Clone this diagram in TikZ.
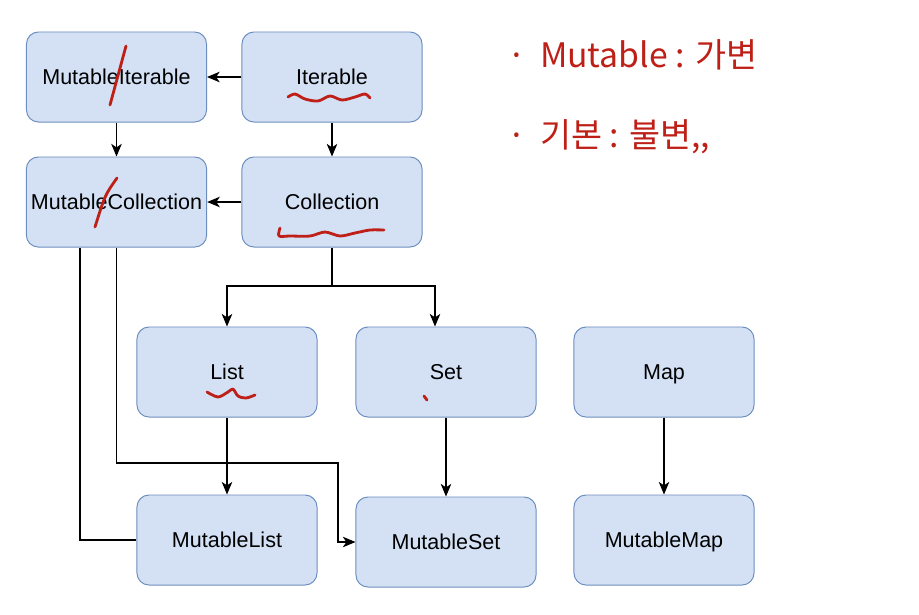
\documentclass[tikz,border=0pt]{standalone}
\usepackage{fontspec}
\setmainfont{Liberation Sans}
\newfontfamily\kr{Noto Sans CJK KR}
\usetikzlibrary{arrows.meta}
\definecolor{boxfill}{HTML}{D4E1F5}
\definecolor{boxline}{HTML}{6C8EBF}
\definecolor{pen}{RGB}{190,32,24}
\tikzset{
  cls/.style={draw=boxline,fill=boxfill,rounded corners=0.3cm,line width=0.7pt,
    minimum width=4.5cm,minimum height=2.25cm,text height=12.5pt,text depth=2pt,
    font=\fontsize{15.3}{18}\selectfont},
  link/.style={line width=0.8pt},
  ink/.style={pen,line width=2pt,line cap=round,line join=round}
}
\begin{document}
\begin{tikzpicture}[>={Stealth[length=9pt,width=7.5pt,inset=2.5pt]},x=0.025cm,y=-0.025cm]
    \useasboundingbox (0,0) rectangle (919,614);
    \node[cls] (mit) at (116.5,77) {MutableIterable};
    \node[cls] (it) at (332,77) {Iterable};
    \node[cls] (mcol) at (116.5,202) {MutableCollection};
    \node[cls] (col) at (332,202) {Collection};
    \node[cls] (lst) at (227,372) {List};
    \node[cls] (set) at (446,372) {Set};
    \node[cls] (map) at (664,372) {Map};
    \node[cls] (mlst) at (227,540) {MutableList};
    \node[cls] (mset) at (446,542) {MutableSet};
    \node[cls] (mmap) at (664,540) {MutableMap};
    \coordinate (split) at (332,286);
    \coordinate (bend) at (338,463);
    \draw[link,->] (it) -- (mit);
    \draw[link,->] (mit) -- (mcol);
    \draw[link,->] (it) -- (col);
    \draw[link,->] (col) -- (mcol);
    \draw[link] (col.south) -- (split);
    \draw[link,->] (split) -| (lst.north);
    \draw[link,->] (split) -| ([xshift=-0.275cm]set.north);
    \draw[link] ([xshift=-0.9125cm]mcol.south) |- (mlst.west);
    \draw[link,->] (mcol.south) |- (bend) |- (mset.west);
    \draw[link,->] (lst) -- (mlst);
    \draw[link,->] (set) -- (mset);
    \draw[link,->] (map) -- (mmap);
    % pen notes
    \node[pen,anchor=west,font=\kr\fontsize{24}{28}\selectfont] (note1) at (503,55) {·\,\ Mutable : 가변};
    \node[pen,anchor=west,font=\kr\fontsize{24}{28}\selectfont] (note2) at (503,137) {·\,\ 기본 : 불변,,};
    \draw[ink] plot[smooth] coordinates {(288,97) (295,94) (305,99) (318,101) (330,96) (342,100) (355,97) (365,94) (370,98)};
    \draw[ink] plot[smooth] coordinates {(280,228) (279,236) (290,236) (310,236) (325,232) (340,236) (355,233) (370,230) (384,230)};
    \draw[ink] plot[smooth] coordinates {(207,392) (218,397) (228,392) (233,389) (238,396) (246,398) (255,395)};
    \draw[ink] (424,396) -- (427,400);
    \draw[ink] (126,46) -- (110,105);
    \draw[ink] (117,178) .. controls (105,195) .. (95,227);
\end{tikzpicture}
\end{document}
